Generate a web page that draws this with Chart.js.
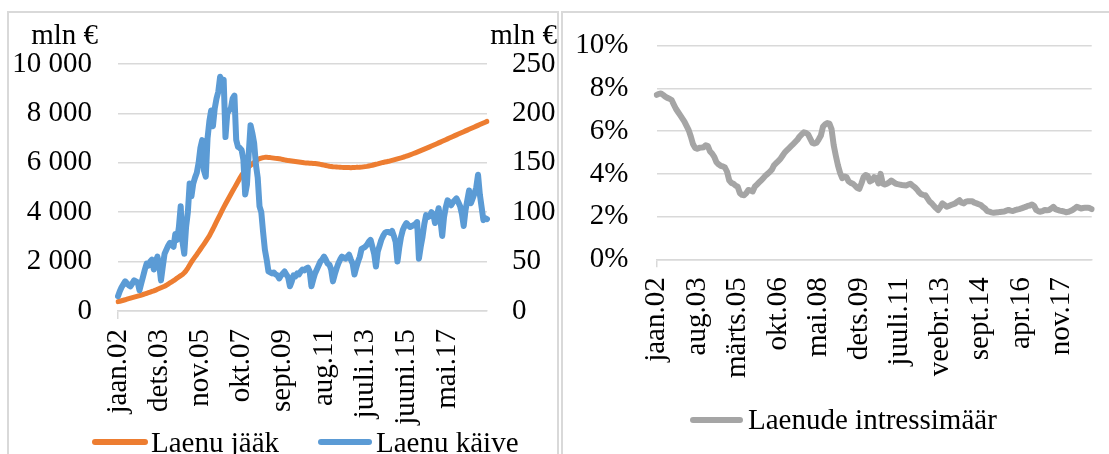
<!DOCTYPE html>
<html>
<head>
<meta charset="utf-8">
<script src="https://cdn.jsdelivr.net/npm/chart.js@4.4.1/dist/chart.umd.min.js"></script>
<style>
  html, body { margin: 0; padding: 0; background: #fff; overflow: hidden; width: 1109px; height: 454px; }
  canvas { position: absolute; top: 0; }
  #loans { left: 0; }
  #rate { left: 560px; }
  .frame { position: absolute; border: 2px solid #d9d9d9; pointer-events: none; }
</style>
</head>
<body>
<canvas id="loans" width="560" height="470"></canvas>
<canvas id="rate" width="549" height="470"></canvas>
<div class="frame" style="left:7px; top:11px; width:548px; height:480px;"></div>
<div class="frame" style="left:561px; top:11px; width:600px; height:480px;"></div>
<script>
// Estonian month abbreviations used in the category labels
const monthNames = ['jaan', 'veebr', 'märts', 'apr', 'mai', 'juuni', 'juuli', 'aug', 'sept', 'okt', 'nov', 'dets'];
const firstYear = 2002;

// Loan stock, mln € (monthly, Jan 2002 – Mar 2019)
const loanStock = [
  377, 395, 415, 435, 455, 478, 500, 520, 540, 560, 580, 600,
  620, 645, 668, 692, 716, 740, 765, 790, 815, 845, 880, 910,
  940, 970, 1000, 1040, 1090, 1135, 1180, 1225, 1280, 1335, 1380, 1430,
  1480, 1550, 1630, 1740, 1860, 1985, 2090, 2190, 2290, 2395, 2500, 2605,
  2710, 2820, 2930, 3040, 3180, 3320, 3470, 3615, 3760, 3905, 4050, 4195,
  4330, 4465, 4595, 4725, 4855, 4985, 5115, 5245, 5375, 5500, 5600, 5690,
  5770, 5840, 5900, 5960, 6020, 6080, 6130, 6165, 6190, 6210, 6220, 6220,
  6215, 6210, 6200, 6190, 6180, 6170, 6160, 6150, 6135, 6120, 6105, 6090,
  6080, 6070, 6060, 6050, 6040, 6030, 6020, 6010, 6000, 5995, 5990, 5985,
  5980, 5975, 5970, 5960, 5950, 5935, 5920, 5905, 5890, 5875, 5860, 5850,
  5840, 5835, 5830, 5825, 5820, 5815, 5810, 5810, 5805, 5805, 5800, 5805,
  5810, 5815, 5815, 5820, 5825, 5835, 5845, 5855, 5870, 5885, 5900, 5920,
  5940, 5955, 5975, 5995, 6015, 6030, 6045, 6060, 6080, 6100, 6120, 6140,
  6160, 6180, 6200, 6222, 6245, 6270, 6295, 6320, 6347, 6375, 6403, 6432,
  6462, 6492, 6522, 6553, 6584, 6615, 6646, 6678, 6710, 6742, 6774, 6806,
  6838, 6870, 6902, 6935, 6968, 7001, 7034, 7067, 7100, 7132, 7164, 7196,
  7228, 7260, 7292, 7324, 7356, 7388, 7420, 7452, 7484, 7516, 7548, 7580,
  7612, 7644, 7676
];

// Loan turnover, mln € (monthly, Jan 2002 – Mar 2019)
const loanTurnover = [
  15, 20, 24, 27, 30, 28, 26, 25, 28, 31, 30, 29,
  21, 28, 35, 42, 48, 46, 50, 52, 42, 50, 55, 47,
  31, 45, 58, 62, 66, 69, 67, 65, 78, 72, 85, 106,
  70, 58, 85, 100, 129, 116, 129, 135, 140, 150, 165, 173,
  142, 136, 175, 192, 203, 187, 205, 215, 222, 237, 232, 234,
  176, 200, 203, 205, 215, 218, 173, 166, 165, 163, 153, 118,
  128, 160, 188, 180, 170, 148, 135, 106, 100, 80, 62, 52,
  40, 39, 38, 39, 37, 36, 33, 36, 38, 40, 37, 34,
  25, 30, 36, 35, 38, 37, 40, 42, 41, 43, 44, 40,
  25, 32, 38, 42, 46, 50, 52, 55, 52, 48, 47, 42,
  30, 37, 43, 48, 52, 55, 54, 53, 55, 57, 52, 48,
  37, 44, 50, 55, 63, 64, 65, 67, 70, 72, 65, 58,
  45, 60, 66, 72, 76, 79, 80, 80, 79, 81, 76, 70,
  50, 64, 75, 82, 86, 89, 87, 85, 86, 87, 88, 90,
  53, 65, 75, 88, 97, 95, 96, 100, 98, 89, 96, 104,
  92, 76, 95, 105, 112, 110, 107, 110, 112, 114, 110, 106,
  98, 86, 102, 112, 122, 109, 114, 119, 125, 138, 118, 105,
  92, 94, 93
];

// Loan interest rate, % (monthly, Jan 2002 – Jan 2019)
const interestRate = [
  7.70, 7.75, 7.77, 7.70, 7.62, 7.56, 7.52, 7.46, 7.25, 7.05, 6.90, 6.75,
  6.60, 6.45, 6.25, 6.05, 5.75, 5.40, 5.22, 5.18, 5.22, 5.23, 5.25, 5.34,
  5.30, 5.05, 4.95, 4.80, 4.55, 4.45, 4.38, 4.35, 4.30, 4.10, 3.70, 3.58,
  3.54, 3.45, 3.40, 3.10, 3.02, 3.00, 3.10, 3.25, 3.22, 3.18, 3.40, 3.50,
  3.60, 3.70, 3.80, 3.92, 4.00, 4.10, 4.20, 4.40, 4.50, 4.60, 4.70, 4.85,
  5.00, 5.10, 5.20, 5.30, 5.40, 5.50, 5.60, 5.75, 5.85, 5.95, 5.92, 5.85,
  5.65, 5.45, 5.42, 5.46, 5.62, 5.80, 6.22, 6.32, 6.38, 6.35, 6.10, 5.35,
  4.85, 4.40, 4.05, 3.80, 3.88, 3.85, 3.65, 3.58, 3.54, 3.45, 3.35, 3.30,
  3.55, 3.85, 3.95, 3.90, 3.65, 3.70, 3.85, 3.80, 3.55, 4.00, 3.55, 3.50,
  3.54, 3.60, 3.69, 3.62, 3.55, 3.52, 3.50, 3.48, 3.47, 3.46, 3.50, 3.54,
  3.45, 3.38, 3.28, 3.15, 3.05, 3.02, 3.00, 2.85, 2.70, 2.62, 2.50, 2.40,
  2.31, 2.45, 2.62, 2.55, 2.46, 2.50, 2.54, 2.58, 2.62, 2.70, 2.77, 2.65,
  2.62, 2.70, 2.72, 2.72, 2.72, 2.65, 2.62, 2.58, 2.54, 2.45, 2.38, 2.26,
  2.23, 2.20, 2.18, 2.19, 2.20, 2.22, 2.23, 2.24, 2.28, 2.31, 2.28, 2.26,
  2.30, 2.33, 2.35, 2.38, 2.42, 2.45, 2.50, 2.52, 2.57, 2.50, 2.31, 2.25,
  2.23, 2.26, 2.31, 2.30, 2.31, 2.38, 2.46, 2.35, 2.31, 2.28, 2.26, 2.24,
  2.20, 2.22, 2.26, 2.31, 2.38, 2.46, 2.42, 2.38, 2.40, 2.42, 2.42, 2.40,
  2.35
];

// Axis tick values
const stockTicks = [0, 2000, 4000, 6000, 8000, 10000];
const turnoverTicks = [0, 50, 100, 150, 200, 250];
const rateTicks = [0, 2, 4, 6, 8, 10];

// Category labels "jaan.02", "veebr.02", ...
function monthLabels(count) {
  const out = [];
  for (let i = 0; i < count; i++) {
    const y = firstYear + Math.floor(i / 12);
    out.push(monthNames[i % 12] + '.' + String(y % 100).padStart(2, '0'));
  }
  return out;
}
const loanMonths = monthLabels(loanStock.length);
const rateMonths = monthLabels(interestRate.length);

const FONT_FAMILY = "'Liberation Serif', 'Times New Roman', serif";
const FONT_SIZE = 29;
Chart.defaults.font.family = FONT_FAMILY;
Chart.defaults.font.size = FONT_SIZE;
Chart.defaults.color = '#000';

const GRID = '#d9d9d9';
const spaced = v => String(v).replace(/\B(?=(\d{3})+(?!\d))/g, ' ');

// Unit captions and a line-style legend drawn on the chart canvas
const decor = {
  id: 'decor',
  afterDraw(chart, args, opts) {
    const ctx = chart.ctx;
    ctx.save();
    ctx.font = FONT_SIZE + 'px ' + FONT_FAMILY;
    ctx.fillStyle = '#000';
    ctx.textBaseline = 'alphabetic';
    (opts.units || []).forEach(u => {
      ctx.textAlign = 'right';
      ctx.fillText(u.text, u.x, u.y);
    });
    (opts.items || []).forEach(it => {
      const ds = chart.data.datasets[it.index];
      ctx.strokeStyle = ds.borderColor;
      ctx.lineWidth = 6;
      ctx.lineCap = 'round';
      ctx.beginPath();
      ctx.moveTo(it.x, it.lineY);
      ctx.lineTo(it.x + it.len, it.lineY);
      ctx.stroke();
      ctx.textAlign = 'left';
      ctx.fillText(ds.label, it.textX, it.textY);
    });
    ctx.restore();
  }
};

// Category axis with a labelled tick every `every` months
function xAxis(labels, every, height) {
  return {
    type: 'category',
    offset: false,
    grid: {
      drawOnChartArea: false,
      drawTicks: true,
      tickLength: 8,
      lineWidth: 1.5,
      color: c => (c.index % every === 0 ? GRID : 'rgba(0,0,0,0)'),
      tickColor: c => (c.index % every === 0 ? GRID : 'rgba(0,0,0,0)')
    },
    border: { display: true, color: GRID, width: 1.5 },
    ticks: {
      autoSkip: false,
      maxRotation: 90,
      minRotation: 90,
      padding: 10,
      color: '#000',
      callback: (v, i) => (i % every === 0 ? labels[i] : null)
    },
    afterFit: s => { s.height = height; }
  };
}

new Chart(document.getElementById('loans'), {
  type: 'line',
  data: {
    labels: loanMonths,
    datasets: [
      { label: 'Laenu jääk', data: loanStock, yAxisID: 'y', borderColor: '#ED7D31', borderWidth: 5, order: 2 },
      { label: 'Laenu käive', data: loanTurnover, yAxisID: 'y1', borderColor: '#5B9BD5', borderWidth: 6, order: 1 }
    ]
  },
  options: {
    responsive: false,
    animation: false,
    devicePixelRatio: 1,
    layout: { padding: { top: 64, left: 0, right: 0, bottom: 34 } },
    elements: {
      point: { radius: 0 },
      line: { tension: 0, borderCapStyle: 'round', borderJoinStyle: 'round' }
    },
    plugins: {
      legend: { display: false },
      tooltip: { enabled: false },
      decor: {
        units: [ { text: 'mln €', x: 98, y: 44 }, { text: 'mln €', x: 557, y: 44 } ],
        items: [
          { index: 0, x: 95, len: 50, lineY: 442, textX: 151, textY: 452 },
          { index: 1, x: 321, len: 48, lineY: 442, textX: 376, textY: 452 }
        ]
      }
    },
    scales: {
      x: xAxis(loanMonths, 23, 125),
      y: {
        position: 'left',
        min: stockTicks[0],
        max: stockTicks[stockTicks.length - 1],
        afterBuildTicks: s => { s.ticks = stockTicks.map(v => ({ value: v })); },
        ticks: { padding: 26, callback: v => spaced(v) },
        grid: { color: GRID, lineWidth: 1.5, drawTicks: false },
        border: { display: false },
        afterFit: s => { s.width = 118; }
      },
      y1: {
        position: 'right',
        min: turnoverTicks[0],
        max: turnoverTicks[turnoverTicks.length - 1],
        afterBuildTicks: s => { s.ticks = turnoverTicks.map(v => ({ value: v })); },
        ticks: { padding: 25 },
        grid: { drawOnChartArea: false, drawTicks: false },
        border: { display: false },
        afterFit: s => { s.width = 73; }
      }
    }
  },
  plugins: [decor]
});

new Chart(document.getElementById('rate'), {
  type: 'line',
  data: {
    labels: rateMonths,
    datasets: [
      { label: 'Laenude intressimäär', data: interestRate, borderColor: '#A5A5A5', borderWidth: 6 }
    ]
  },
  options: {
    responsive: false,
    animation: false,
    devicePixelRatio: 1,
    layout: { padding: { top: 41.7, left: 0, right: 17.3, bottom: 40.7 } },
    elements: {
      point: { radius: 0 },
      line: { tension: 0, borderCapStyle: 'round', borderJoinStyle: 'round' }
    },
    plugins: {
      legend: { display: false },
      tooltip: { enabled: false },
      decor: {
        items: [ { index: 0, x: 133, len: 47, lineY: 420, textX: 188, textY: 429 } ]
      }
    },
    scales: {
      x: xAxis(rateMonths, 19, 170),
      y: {
        position: 'left',
        min: rateTicks[0],
        max: rateTicks[rateTicks.length - 1],
        afterBuildTicks: s => { s.ticks = rateTicks.map(v => ({ value: v })); },
        ticks: { padding: 28.4, callback: v => v + '%' },
        grid: { color: GRID, lineWidth: 1.5, drawTicks: false },
        border: { display: false },
        afterFit: s => { s.width = 96.7; }
      }
    }
  },
  plugins: [decor]
});
</script>
</body>
</html>
